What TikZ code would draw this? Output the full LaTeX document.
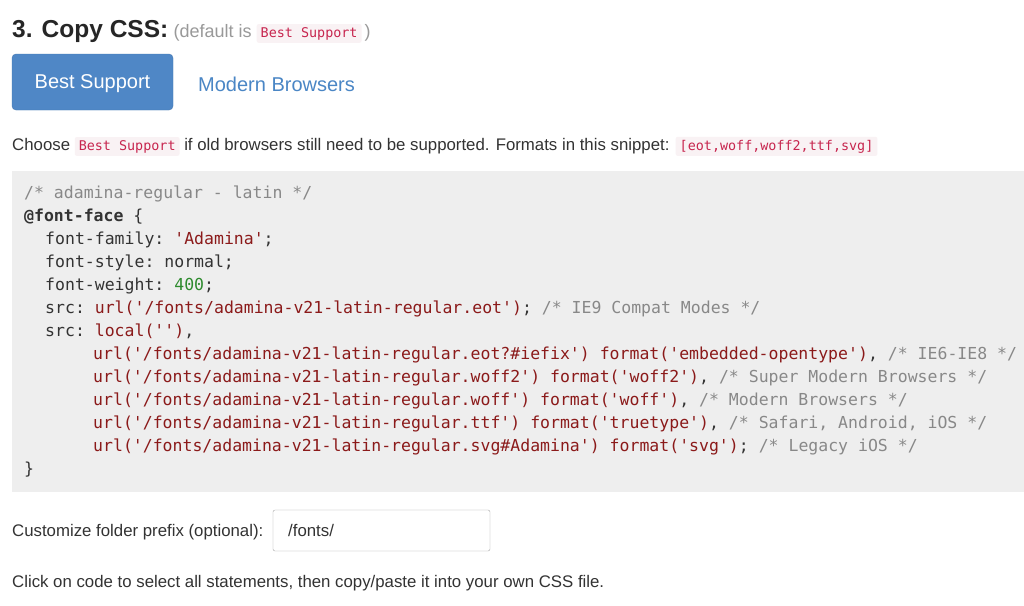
\documentclass[tikz,border=0pt]{standalone}
\usepackage{fontspec}
\setmainfont{Liberation Sans}
\setmonofont{DejaVu Sans Mono}
\usepackage{xcolor}
\definecolor{btnblue}{HTML}{4F87C6}
\definecolor{linkblue}{HTML}{4A86C5}
\definecolor{codebg}{HTML}{EEEEEE}
\definecolor{pinkbg}{HTML}{F9F2F4}
\definecolor{crimson}{HTML}{C7254E}
\definecolor{cmtgray}{HTML}{888888}
\definecolor{strred}{HTML}{8B1A1A}
\definecolor{numgreen}{HTML}{2E8B2E}
\definecolor{txtdark}{HTML}{333333}
\newcommand{\csscmt}[1]{\textcolor{cmtgray}{#1}}
\newcommand{\cssstr}[1]{\textcolor{strred}{#1}}
\newcommand{\cssnum}[1]{\textcolor{numgreen}{#1}}
\newcommand{\pinkcode}[1]{\tikz[baseline=(pc.base)]\node[inner xsep=4pt,inner ysep=3pt,fill=pinkbg,rounded corners=2pt,text=crimson] (pc) {\fontsize{13.4}{15}\ttfamily #1};}

\begin{document}
\begin{tikzpicture}[x=1pt,y=-1pt,
    txt/.style={anchor=base west,inner sep=0pt,text=txtdark,font=\fontsize{16.8}{19}\selectfont},
    codeln/.style={anchor=base west,inner sep=0pt,text=txtdark,font=\fontsize{16.5}{23}\ttfamily}]
  \useasboundingbox[fill=white] (0,0) rectangle (1024,605);

  % heading
  \node[txt,font=\fontsize{24.5}{28}\selectfont\bfseries,text=black!85] (title) at (12,37) {3. Copy CSS:};
  \node[txt,font=\fontsize{18}{22}\selectfont,text=black!40] (dflt) at (title.base east) {\ (default is \pinkcode{Best Support}\,)};

  % tabs
  \filldraw[fill=btnblue,draw=btnblue!90!black,rounded corners=4pt] (12,54) rectangle (173,110);
  \node[text=white,font=\fontsize{20}{24}\selectfont] (best) at (92.5,84) {Best Support};
  \node[text=linkblue,font=\fontsize{20}{24}\selectfont,anchor=west,inner sep=0pt] (modern) at (198,84) {Modern Browsers};

  \node[txt] (choose) at (12,150) {Choose \pinkcode{Best Support} if old browsers still need to be supported. Formats in this snippet: \pinkcode{[eot,woff,woff2,ttf,svg]}};

  % code block
  \fill[codebg] (12,171) rectangle (1024,492);
  \node[codeln] (l1) at (24,198) {\csscmt{/* adamina-regular - latin */}};
  \node[codeln] (l2) at (24,221) {\textbf{@font-face} \{};
  \node[codeln] (l3) at (45,244) {font-family: \cssstr{'Adamina'};};
  \node[codeln] (l4) at (45,267) {font-style: normal;};
  \node[codeln] (l5) at (45,290) {font-weight: \cssnum{400};};
  \node[codeln] (l6) at (45,313) {src: \cssstr{url('/fonts/adamina-v21-latin-regular.eot')}; \csscmt{/* IE9 Compat Modes */}};
  \node[codeln] (l7) at (45,336) {src: \cssstr{local('')},};
  \node[codeln] (l8) at (93,359) {\cssstr{url('/fonts/adamina-v21-latin-regular.eot?\#iefix') format('embedded-opentype')}, \csscmt{/* IE6-IE8 */}};
  \node[codeln] (l9) at (93,382) {\cssstr{url('/fonts/adamina-v21-latin-regular.woff2') format('woff2')}, \csscmt{/* Super Modern Browsers */}};
  \node[codeln] (l10) at (93,405) {\cssstr{url('/fonts/adamina-v21-latin-regular.woff') format('woff')}, \csscmt{/* Modern Browsers */}};
  \node[codeln] (l11) at (93,428) {\cssstr{url('/fonts/adamina-v21-latin-regular.ttf') format('truetype')}, \csscmt{/* Safari, Android, iOS */}};
  \node[codeln] (l12) at (93,451) {\cssstr{url('/fonts/adamina-v21-latin-regular.svg\#Adamina') format('svg')}; \csscmt{/* Legacy iOS */}};
  \node[codeln] (l13) at (24,474) {\}};

  % folder prefix
  \node[txt] (prefix) at (12,536) {Customize folder prefix (optional):};
  \draw[black!35,rounded corners=2pt] (273,510) rectangle (490,551);
  \node[txt] (fonts) at (288,536) {/fonts/};

  \node[txt] (hint) at (12,587) {Click on code to select all statements, then copy/paste it into your own CSS file.};
\end{tikzpicture}
\end{document}
